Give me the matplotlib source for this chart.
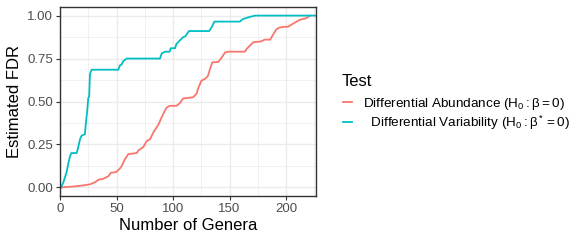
import matplotlib
matplotlib.use("Agg")
import matplotlib.pyplot as plt

plt.rcParams['font.family'] = ['Liberation Sans', 'DejaVu Sans']
plt.rcParams['mathtext.fontset'] = 'custom'
plt.rcParams['mathtext.rm'] = 'Liberation Sans'
plt.rcParams['mathtext.it'] = 'Liberation Sans:italic'

# Differential Variability (estimated FDR vs number of genera)
dv_x = [1, 3, 5.9, 7.4, 8.8, 10, 14.7, 16, 17.7, 19, 22, 23, 24, 25, 25.8, 26.5, 28,
        51.6, 53, 54.5, 56, 59, 88.5, 90, 93, 97, 98, 101.8, 103, 106, 109, 111,
        114, 132, 134, 136.6, 159, 162, 166.7, 172.6, 226.5]
dv_y = [0.0, 0.03, 0.09, 0.14, 0.18, 0.2, 0.2, 0.23, 0.28, 0.30, 0.31, 0.38, 0.44,
        0.52, 0.53, 0.66, 0.685, 0.685, 0.71, 0.715, 0.735, 0.75, 0.75, 0.78, 0.79,
        0.79, 0.81, 0.81, 0.835, 0.855, 0.875, 0.88, 0.91, 0.91, 0.93, 0.965, 0.965,
        0.98, 0.99, 1.0, 1.0]

# Differential Abundance
da_x = [1, 13.3, 22, 26.5, 31, 34, 38.3, 42.8, 45, 50, 53, 54.6, 57.5, 60.5, 67.9,
        69.3, 73.7, 76.7, 79.6, 82.6, 87, 89.4, 91.5, 94.4, 97.3, 103, 106, 109,
        111.9, 117.8, 120.8, 122, 125, 128.9, 131, 132.7, 134.8, 140, 143, 146, 149,
        163.7, 165, 168, 171, 178, 181, 186, 188.3, 191.5, 194, 199, 201.7, 208,
        212, 218, 221]
da_y = [0.0, 0.006, 0.013, 0.018, 0.03, 0.045, 0.05, 0.065, 0.085, 0.09, 0.11, 0.125,
        0.165, 0.194, 0.2, 0.215, 0.235, 0.27, 0.28, 0.32, 0.365, 0.4, 0.43, 0.465,
        0.475, 0.475, 0.49, 0.518, 0.52, 0.525, 0.545, 0.572, 0.62, 0.635, 0.65,
        0.69, 0.728, 0.73, 0.755, 0.785, 0.79, 0.79, 0.805, 0.825, 0.845, 0.85, 0.86,
        0.86, 0.887, 0.92, 0.93, 0.935, 0.935, 0.96, 0.975, 0.985, 1.0]

labels = [r'Differential Abundance $(\mathrm{H_0:\beta=0})$',
          r'  Differential Variability $(\mathrm{H_0:\beta^*=0})$']
colors = ['#F8766D', '#00BFC4']

fig = plt.figure(figsize=(5.81, 2.42), dpi=100)
ax = fig.add_axes([60 / 581, 46 / 242, 256 / 581, 189 / 242])

ax.plot(da_x, da_y, color=colors[0], lw=1.3, label=labels[0])
ax.plot(dv_x, dv_y, color=colors[1], lw=1.3, label=labels[1])

ax.set_xlim(0, 226.5)
ax.set_ylim(-0.05, 1.05)
ax.set_xticks([0, 50, 100, 150, 200])
ax.set_xticks([25, 75, 125, 175, 225], minor=True)
ax.set_yticks([0, 0.25, 0.5, 0.75, 1.0])
ax.set_yticklabels(['0.00', '0.25', '0.50', '0.75', '1.00'])
ax.set_yticks([0.125, 0.375, 0.625, 0.875], minor=True)
ax.grid(True, which='major', color='#EBEBEB', lw=1.0)
ax.grid(True, which='minor', color='#EBEBEB', lw=0.5)
ax.set_axisbelow(True)
ax.tick_params(which='major', length=3, width=0.8, color='#333333',
               labelsize=9.5, labelcolor='#4D4D4D', pad=2)
ax.tick_params(which='minor', length=0)
for s in ax.spines.values():
    s.set_color('#333333')
    s.set_linewidth(1.0)

ax.set_xlabel('Number of Genera', fontsize=12, labelpad=2)
ax.set_ylabel('Estimated FDR', fontsize=12, labelpad=4)

# legend: title as its own text, keys and labels below it
fig.text(342 / 581, 1 - 82 / 242, 'Test', fontsize=12, ha='left', va='center')
leg = fig.legend(loc='upper left', bbox_to_anchor=(342.5 / 581, 1 - 96 / 242),
                 frameon=False, fontsize=9.7, borderpad=0, borderaxespad=0,
                 handlelength=0.7, handletextpad=0.8, labelspacing=0.12)

fig.savefig('out.png', dpi=100)
